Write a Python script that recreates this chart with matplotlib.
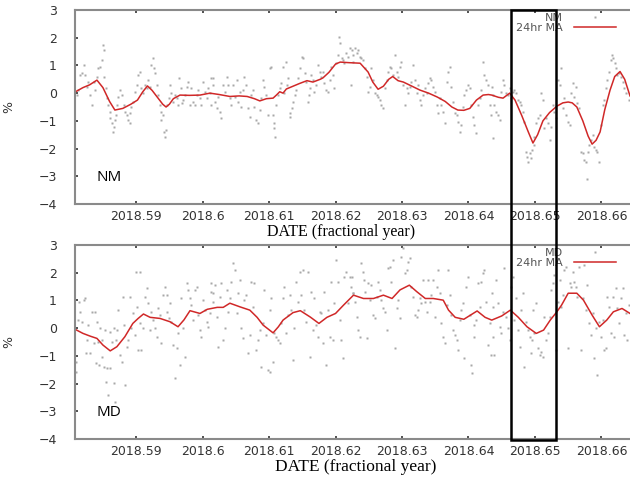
import numpy as np
import matplotlib
matplotlib.use('Agg')
import matplotlib.pyplot as plt
from matplotlib.patches import Rectangle
from matplotlib.transforms import blended_transform_factory

# time is stored as offset from 2018.58 in units of 1e-4 year
T0 = 2018.58
TSCALE = 1e-4

# NM hourly values (%)
nm_pts = [
    (11, -0.07), (13, 0.11), (16, 0.65), (18, 0.71), (21, 1.01), (23, 0.65), (26, 0.23), (28, 0.41),
    (31, -0.07), (33, -0.43), (36, 0.41), (38, 0.11), (41, 0.59), (43, 0.89), (46, 0.95), (48, 1.19),
    (50, 1.74), (51, 1.56), (52, 0.59), (54, 0.17), (56, -0.19), (58, -0.43), (60, -0.67), (61, -0.91),
    (63, -1.09), (65, -1.39), (67, -1.21), (68, -0.97), (70, -0.79), (71, -0.43), (73, -0.13), (76, 0.11),
    (78, -0.07), (81, -0.43), (83, -0.67), (86, -0.79), (88, -0.97), (90, -1.09), (91, -0.73), (93, -0.49),
    (96, -0.31), (98, 0.05), (101, 0.29), (103, 0.65), (106, 0.77), (108, 0.17), (111, -0.01), (113, 0.29),
    (116, 0.17), (118, 0.47), (121, 0.23), (122, 1.01), (125, 1.26), (127, 0.89), (129, 0.71), (131, 0.29),
    (133, -0.07), (136, -0.43), (137, -0.67), (138, -0.97), (140, -0.79), (142, -1.39), (143, -1.57),
    (145, -1.33), (147, -0.43), (149, -0.19), (151, 0.29), (153, -0.01), (156, -0.31), (158, -0.07),
    (161, -0.19), (163, -0.43), (165, 0.53), (167, 0.17), (169, -0.37), (171, -0.25), (173, -0.07),
    (176, 0.23), (178, 0.41), (181, -0.43), (183, 0.17), (186, -0.31), (188, -0.43), (191, -0.07),
    (193, 0.11), (196, -0.19), (198, -0.43), (201, 0.41), (203, 0.05), (206, -0.19), (208, 0.17),
    (211, -0.01), (213, -0.43), (216, 0.53),
    (213, 0.53), (216, 0.29), (218, -0.31), (221, -0.55), (223, -0.13), (226, -0.67), (228, -0.91),
    (231, 0.29), (233, 0.05), (236, 0.59), (238, 0.29), (241, -0.19), (243, -0.43), (246, 0.29),
    (248, -0.13), (251, 0.47), (253, -0.31), (256, 0.05), (258, -0.49), (261, 0.11), (263, 0.59),
    (266, 0.29), (268, -0.55), (271, -0.85), (273, -0.07), (276, 0.11), (278, -0.49), (281, -0.97),
    (283, -1.09), (286, -0.61), (288, -0.19), (291, 0.47), (293, 0.23), (296, -0.07), (298, -0.79),
    (301, 0.89), (303, 0.95), (306, -0.79), (307, -1.09), (308, -1.27), (309, -1.57), (311, -0.43),
    (313, -0.07), (316, 0.17), (318, 0.35), (321, 0.95), (323, -0.01), (325, 1.13), (327, 0.29),
    (329, 0.53), (331, -0.73), (332, -0.85), (334, -0.55), (336, -0.31), (339, -0.07), (341, 0.11),
    (344, 0.53), (346, 0.89), (349, 1.32), (351, 1.26), (354, 0.71), (356, 0.41), (358, -0.31),
    (360, -0.07), (362, 0.17), (363, 0.65), (366, 0.47), (368, 0.05), (371, 0.29), (373, 1.01),
    (376, 0.77), (378, 0.59), (381, 0.77), (383, 0.35), (386, 0.11), (388, 0.05), (391, 0.47),
    (393, 0.95), (396, 0.65), (398, 0.17), (401, 1.07), (403, 1.38), (405, 2.04), (407, 1.80),
    (409, 1.26), (411, 1.19), (413, 1.07), (416, 1.44), (418, 1.32), (421, 1.62), (423, 0.29), (426, 1.13),
    (424, 1.56), (427, 1.38), (429, 1.62), (432, 1.44), (434, 1.56), (437, 1.32), (439, 1.26), (442, 1.19),
    (444, 0.89), (447, 0.59), (449, 0.05), (452, 0.23), (454, 0.89), (457, 0.47), (459, -0.01),
    (462, -0.07), (464, -0.13), (467, -0.25), (469, -0.43), (472, -0.55), (474, 0.17), (477, 0.47),
    (479, 0.77), (482, 0.95), (484, 0.89), (487, 0.65), (489, 1.38), (492, 0.77), (494, 0.59),
    (497, 0.95), (499, 1.13), (502, 0.29), (504, -0.43), (507, 0.17), (509, -0.01), (512, 0.23),
    (514, 0.41), (517, 1.01), (519, 0.47), (522, -0.01), (524, 0.29), (527, -0.25), (529, -0.43),
    (532, -0.07), (534, 0.17), (537, -0.01), (539, 0.35), (542, 0.53), (544, 0.47), (547, 0.23),
    (549, 0.05), (552, -0.43), (554, -0.73), (557, -0.19), (559, -0.43), (562, -0.67), (564, -1.09),
    (567, 0.41), (569, 0.77), (572, 0.95), (574, 0.23), (577, -0.31), (579, -0.73), (582, -0.79),
    (584, -1.03), (587, -1.39), (589, -1.15), (592, -0.49), (594, -0.07), (597, 0.11), (599, 0.29),
    (602, 0.17), (604, -0.43), (607, -0.85), (609, -1.15), (612, -1.45), (614, -0.43), (617, -0.19),
    (619, 0.11), (622, 1.13), (624, 0.65), (627, 0.47), (629, 0.29), (632, -0.43), (634, -0.79),
    (637, -1.63),
    (635, 0.23), (637, -0.07), (639, -0.43), (642, -0.67), (644, -0.79), (647, -0.97), (649, 0.05),
    (652, 0.47), (654, 0.29), (657, -0.01), (659, -0.07), (662, 0.17), (664, -0.19), (667, 0.05),
    (669, 0.11), (672, -0.01), (674, -0.25), (677, -0.31), (679, -0.43), (682, -0.67), (684, -1.03),
    (687, -2.11), (688, -2.29), (690, -2.47), (692, -2.17), (694, -2.35), (696, -2.05), (698, -1.87),
    (699, -1.57), (702, -1.09), (704, -0.91), (707, -0.79), (709, -0.01), (712, -0.25), (714, -1.27),
    (717, -0.91), (719, -1.09), (722, -1.69), (724, -1.21), (727, -0.43), (729, -0.67), (732, -0.91),
    (734, 0.47), (737, 0.29), (739, 0.89), (742, -0.55), (744, -0.19), (747, -0.79), (749, -1.03),
    (752, -1.15), (754, -0.01), (757, 0.35), (759, -0.13), (762, 0.23), (764, -0.37), (767, -0.55),
    (769, -2.11), (772, -2.17), (774, -2.41), (777, -2.47), (778, -3.08), (780, -2.11), (782, -1.87),
    (784, -1.69), (787, -1.51), (789, -1.93), (792, -2.05), (794, -2.11), (797, -2.47), (799, -1.15),
    (802, -0.43), (804, -0.25), (807, 0.17), (809, 0.47), (812, 0.77), (814, 1.19), (816, 1.38),
    (818, 1.26), (820, 1.07), (822, 0.89), (824, 0.65), (827, 0.71), (829, 0.59), (832, 0.41),
    (834, 0.17), (837, -0.01), (842, -0.25),
]

# NM 24 hour moving average
nm_ma = [
    (8, 0.04), (20, 0.2), (30, 0.3), (41, 0.47), (50, 0.2), (60, -0.3), (68, -0.61), (80, -0.55),
    (92, -0.4), (102, -0.25), (110, 0.05), (117, 0.26), (124, 0.1), (132, -0.15), (140, -0.4),
    (145, -0.5), (150, -0.4), (156, -0.2), (166, -0.07), (180, -0.08), (196, -0.07), (211, 0.0),
    (225, -0.05), (241, -0.12), (255, -0.1), (267, -0.12), (278, -0.2), (286, -0.28), (296, -0.2),
    (306, -0.18), (311, -0.07), (316, 0.05), (321, 0.0), (326, 0.15), (336, 0.25), (346, 0.35),
    (357, 0.45), (366, 0.4), (377, 0.5), (381, 0.55), (390, 0.75), (400, 1.05), (407, 1.12),
    (420, 1.1), (437, 1.08), (449, 0.76), (456, 0.4), (464, 0.14), (472, 0.25), (480, 0.5),
    (486, 0.6), (494, 0.45), (502, 0.40), (515, 0.25), (527, 0.11), (540, 0.0), (553, -0.14),
    (565, -0.3), (575, -0.5), (584, -0.61), (593, -0.62), (602, -0.55), (612, -0.25), (622, -0.07),
    (630, -0.05), (635, -0.07), (645, -0.15), (652, -0.18), (662, 0.0), (670, -0.25), (680, -0.8),
    (690, -1.4), (697, -1.8), (704, -1.5), (712, -1.0), (722, -0.7), (733, -0.47), (742, -0.35),
    (750, -0.32), (756, -0.35), (763, -0.5), (772, -1.0), (780, -1.55), (786, -1.84), (792, -1.7),
    (798, -1.4), (805, -0.6), (813, 0.11), (820, 0.6), (828, 0.78), (835, 0.5), (843, -0.1),
]

# MD hourly values (%)
md_pts = [
    (9, -1.21), (10, -1.57), (12, 0.29), (14, 0.95), (16, 0.59), (18, 0.23), (21, 1.01), (23, 1.07),
    (24, -0.91), (26, -0.43), (28, 0.11), (31, -0.91), (33, 0.59), (36, -0.55), (38, 0.59), (39, -1.27),
    (41, 0.23), (43, -0.49), (44, -1.33), (46, -0.01), (48, -1.03), (49, -0.43), (51, -1.39),
    (53, -0.07), (55, -1.93), (56, -1.45), (58, -2.42), (60, -0.13), (61, -1.45), (63, -0.49),
    (66, -1.99), (67, -0.01), (68, -2.66), (70, -0.43), (71, -0.07), (73, 0.65), (76, -0.97),
    (78, -1.21), (80, 1.13), (81, 0.11), (83, -2.05), (86, -0.67), (88, -0.43), (91, 1.13), (93, -0.01),
    (96, 0.53), (98, -0.25), (100, 2.04), (101, 0.77), (103, -0.79), (106, 2.04), (106, 0.17),
    (108, -0.79), (111, -0.01), (113, 1.13), (116, 1.44), (118, 0.89), (121, -0.07), (123, 0.59),
    (126, 0.29), (128, -0.01), (131, -0.31), (133, 0.71), (136, 0.47), (138, -0.55), (141, 1.19),
    (143, 1.50), (146, 0.59), (147, 1.19), (149, 0.35), (151, 0.89), (153, 0.23), (156, -0.61),
    (158, -1.81), (161, -0.73), (163, -0.19), (166, -1.33), (168, 1.07), (171, -0.01), (173, -1.03),
    (176, 1.62), (178, 1.38), (181, 1.07), (183, 0.83), (186, 0.29), (188, 1.38), (191, 1.50),
    (193, 0.47), (196, -0.07), (198, -0.31), (201, 1.01), (203, 0.65), (206, 0.23), (208, 0.05),
    (211, 0.53), (213, 1.62), (216, 1.26),
    (213, 1.32), (216, 0.95), (218, 1.56), (221, 0.41), (223, -0.67), (226, 1.13), (228, 1.62),
    (231, -0.43), (233, -0.01), (236, 1.38), (238, 0.59), (241, 1.07), (243, 1.68), (246, 2.34),
    (248, 2.10), (251, 0.53), (253, 1.26), (256, 1.74), (258, -0.01), (261, -0.37), (263, 1.01),
    (266, 1.19), (268, -0.91), (271, -0.25), (273, 1.68), (276, 0.77), (278, 1.62), (281, -0.79),
    (283, -0.43), (286, -0.07), (288, -1.39), (291, 0.17), (293, 1.38), (296, -0.25), (298, -1.51),
    (301, 0.65), (302, -1.57), (303, 1.07), (306, -1.21), (308, -0.19), (311, -0.31), (313, -0.43),
    (316, -0.55), (318, 0.17), (321, 1.07), (323, 1.50), (326, -0.19), (328, 0.47), (331, 1.19),
    (333, 0.65), (336, -1.15), (338, -0.01), (341, 1.68), (343, 0.95), (346, 2.04), (348, 1.19),
    (351, 2.10), (353, 0.65), (356, 0.23), (358, 2.04), (361, -1.03), (363, 1.32), (366, -0.07),
    (368, 1.07), (371, 0.11), (373, -0.31), (376, 0.59), (378, 0.53), (381, -0.55), (383, 1.32),
    (386, -1.33), (388, 0.65), (391, -0.31), (393, 1.68), (396, -0.43), (398, 0.89), (401, 2.46),
    (403, 1.68), (406, 0.29), (408, -0.43), (411, -1.09), (413, 1.86), (416, 2.04), (418, 0.89),
    (421, 1.86), (423, 1.50), (426, 1.26),
    (424, 1.86), (427, 1.26), (429, 0.95), (432, 0.41), (434, -0.07), (437, -0.31), (439, 2.34),
    (442, 2.04), (443, 1.74), (444, 1.32), (447, -0.37), (449, 1.62), (452, 1.01), (454, 1.56),
    (457, 0.47), (459, 0.35), (462, 1.13), (464, 1.68), (467, 1.38), (469, 1.01), (472, 0.71),
    (474, 0.59), (477, -0.07), (479, 2.16), (482, 2.22), (484, 1.68), (487, 2.46), (489, -0.73),
    (492, 0.71), (494, 1.01), (497, 0.35), (499, 2.58), (502, 2.88), (504, 1.98), (507, 2.10),
    (509, 2.40), (512, 2.52), (514, 1.50), (517, 1.13), (519, 0.47), (522, 0.41), (524, 0.65),
    (527, 1.07), (529, 0.89), (532, 1.74), (534, 0.95), (537, 0.59), (539, 1.74), (542, 0.95),
    (544, 1.19), (547, 1.74), (549, 0.41), (552, 1.50), (554, 2.10), (557, 1.26), (559, 0.17),
    (562, -0.31), (564, -0.55), (567, 0.83), (569, 2.10), (572, 1.19), (574, 0.47), (577, -0.07),
    (579, -0.25), (582, -0.43), (584, -0.79), (587, 0.29), (589, 0.65), (592, 0.89), (594, -1.09),
    (597, 1.50), (599, 1.86), (602, 0.47), (604, -1.33), (606, -1.63), (608, -0.31), (609, 0.11),
    (612, 0.29), (614, 1.62), (617, 0.77), (619, 1.68), (622, 1.98), (624, 2.10), (627, 0.95),
    (629, -0.61), (632, 0.17), (634, -0.97), (637, 0.77),
    (635, 1.26), (637, -0.31), (639, -0.97), (642, 1.74), (644, 0.89), (647, 0.05), (649, -0.19),
    (652, 0.59), (654, 2.16), (657, 0.41), (659, -0.01), (662, -0.43), (664, 1.50), (667, 1.86),
    (669, 0.29), (672, 1.07), (674, -0.07), (677, -0.67), (679, 0.65), (682, 1.26), (684, -1.39),
    (687, 0.23), (689, -0.07), (692, -0.31), (694, -0.91), (696, -0.43), (697, 0.65), (699, -0.19),
    (702, 0.89), (704, -0.73), (707, -0.97), (709, -0.85), (712, -1.03), (714, 0.41), (717, -0.43),
    (719, -0.19), (722, 0.41), (724, 1.38), (727, 1.62), (729, 1.92), (732, -0.79), (734, 0.95),
    (737, 1.74), (739, 0.77), (742, 1.19), (744, 2.10), (747, 2.22), (749, -0.73), (752, 1.62),
    (754, 1.50), (757, 2.04), (759, 1.68), (762, 1.50), (764, 1.13), (767, 2.22), (769, -0.79),
    (772, 1.07), (774, 2.28), (777, 0.65), (779, 1.56), (782, 0.17), (784, -0.25), (787, 0.53),
    (789, -1.09), (792, -0.01), (794, -1.69), (797, 0.23), (799, -0.31), (802, 0.29), (804, -0.79),
    (807, -0.73), (809, 1.13), (812, 0.77), (814, -0.19), (817, 1.13), (819, -0.31), (822, 1.44),
    (824, 0.71), (827, 0.17), (829, 1.07), (832, 1.44), (834, -0.25), (837, 0.53), (839, -0.43),
    (842, 0.83),
]

# MD 24 hour moving average
md_ma = [
    (8, -0.04), (20, -0.19), (31, -0.29), (41, -0.37), (50, -0.61), (61, -0.82), (71, -0.67),
    (83, -0.31), (95, 0.17), (103, 0.35), (111, 0.51), (121, 0.39), (136, 0.35), (151, 0.23),
    (163, 0.05), (172, 0.3), (181, 0.63), (196, 0.53), (207, 0.68), (222, 0.75), (231, 0.75),
    (241, 0.9), (256, 0.77), (271, 0.65), (282, 0.39), (291, 0.11), (306, -0.17), (314, 0.05),
    (321, 0.29), (336, 0.56), (347, 0.63), (362, 0.4), (375, 0.17), (387, 0.39), (400, 0.53),
    (412, 0.83), (427, 1.19), (442, 1.07), (457, 1.07), (472, 1.19), (485, 1.07), (497, 1.38),
    (511, 1.55), (522, 1.32), (535, 1.07), (547, 1.07), (562, 1.01), (570, 0.65), (580, 0.39),
    (593, 0.32), (603, 0.47), (613, 0.62), (625, 0.39), (635, 0.29), (650, 0.44), (663, 0.65),
    (675, 0.39), (688, 0.05), (702, -0.19), (713, -0.07), (723, 0.29), (733, 0.59), (740, 0.83),
    (750, 1.26), (763, 1.26), (773, 1.01), (786, 0.47), (797, 0.05), (808, 0.29), (818, 0.59),
    (831, 0.71), (843, 0.53),
]

xticks = [2018.59, 2018.60, 2018.61, 2018.62, 2018.63, 2018.64, 2018.65, 2018.66]
xtick_labels = ['2018.59', '2018.6', '2018.61', '2018.62', '2018.63', '2018.64', '2018.65', '2018.66']
yticks = [-4, -3, -2, -1, 0, 1, 2, 3]
xlim = (2018.5808, 2018.6643)
box_t = (2018.6464, 2018.6531)


def to_xy(pairs):
    a = np.array(pairs, dtype=float)
    return T0 + a[:, 0] * TSCALE, a[:, 1]


fig = plt.figure(figsize=(6.3, 4.79), dpi=100)
ax1 = fig.add_axes([75 / 630, 1 - 204 / 479, 555 / 630, 194 / 479])
ax2 = fig.add_axes([75 / 630, 1 - 439 / 479, 555 / 630, 194 / 479])

panels = [(ax1, nm_pts, nm_ma, 'NM'), (ax2, md_pts, md_ma, 'MD')]
for ax, pts, ma, name in panels:
    t, v = to_xy(pts)
    mt, mv = to_xy(ma)
    ax.plot(t, v, 's', ms=1.9, color='#a8a8a8', mec='none', label=name)
    ax.plot(mt, mv, color='#d02828', lw=1.1, label='24hr MA')
    ax.set_xlim(*xlim)
    ax.set_ylim(-4, 3)
    ax.set_xticks(xticks)
    ax.set_xticklabels(xtick_labels)
    ax.set_yticks(yticks)
    ax.tick_params(direction='in', top=True, length=2.5, width=1.2, color='#333333',
                   labelsize=9, labelcolor='#333333')
    ax.tick_params(axis='y', pad=13)
    ax.tick_params(axis='x', pad=4)
    for s in ['left', 'bottom', 'top']:
        ax.spines[s].set_color('#8a8a8a')
        ax.spines[s].set_linewidth(1.5)
    ax.spines['right'].set_visible(False)
    ax.set_ylabel('%', fontsize=9, color='#333333')
    ax.yaxis.set_label_coords(-60 / 555, 0.5)
    ax.text(22 / 555, 0.135, name, transform=ax.transAxes, fontsize=11,
            family='Open Sans', va='center', ha='left')
    leg = ax.legend(loc='upper right', bbox_to_anchor=(0.985, 1.012), frameon=False,
                    markerfirst=False, fontsize=8, handlelength=3.8, numpoints=1,
                    labelspacing=-0.05, borderpad=0, handletextpad=1.0)
    for txt in leg.get_texts():
        txt.set_color('#555555')

fig.text(341 / 630, 1 - 232 / 479, 'DATE (fractional year)', family='Liberation Serif',
         fontsize=11.5, ha='center', va='center')
fig.text(356 / 630, 1 - 467 / 479, 'DATE (fractional year)', family='Liberation Serif',
         fontsize=12.5, ha='center', va='center')

# highlight box spanning both panels
trans = blended_transform_factory(ax2.transData, fig.transFigure)
rect = Rectangle((box_t[0], 1 - 439.5 / 479), box_t[1] - box_t[0], 430 / 479,
                 transform=trans, fill=False, ec='black', lw=1.8, clip_on=False)
fig.add_artist(rect)

fig.savefig('out.png', dpi=100)
